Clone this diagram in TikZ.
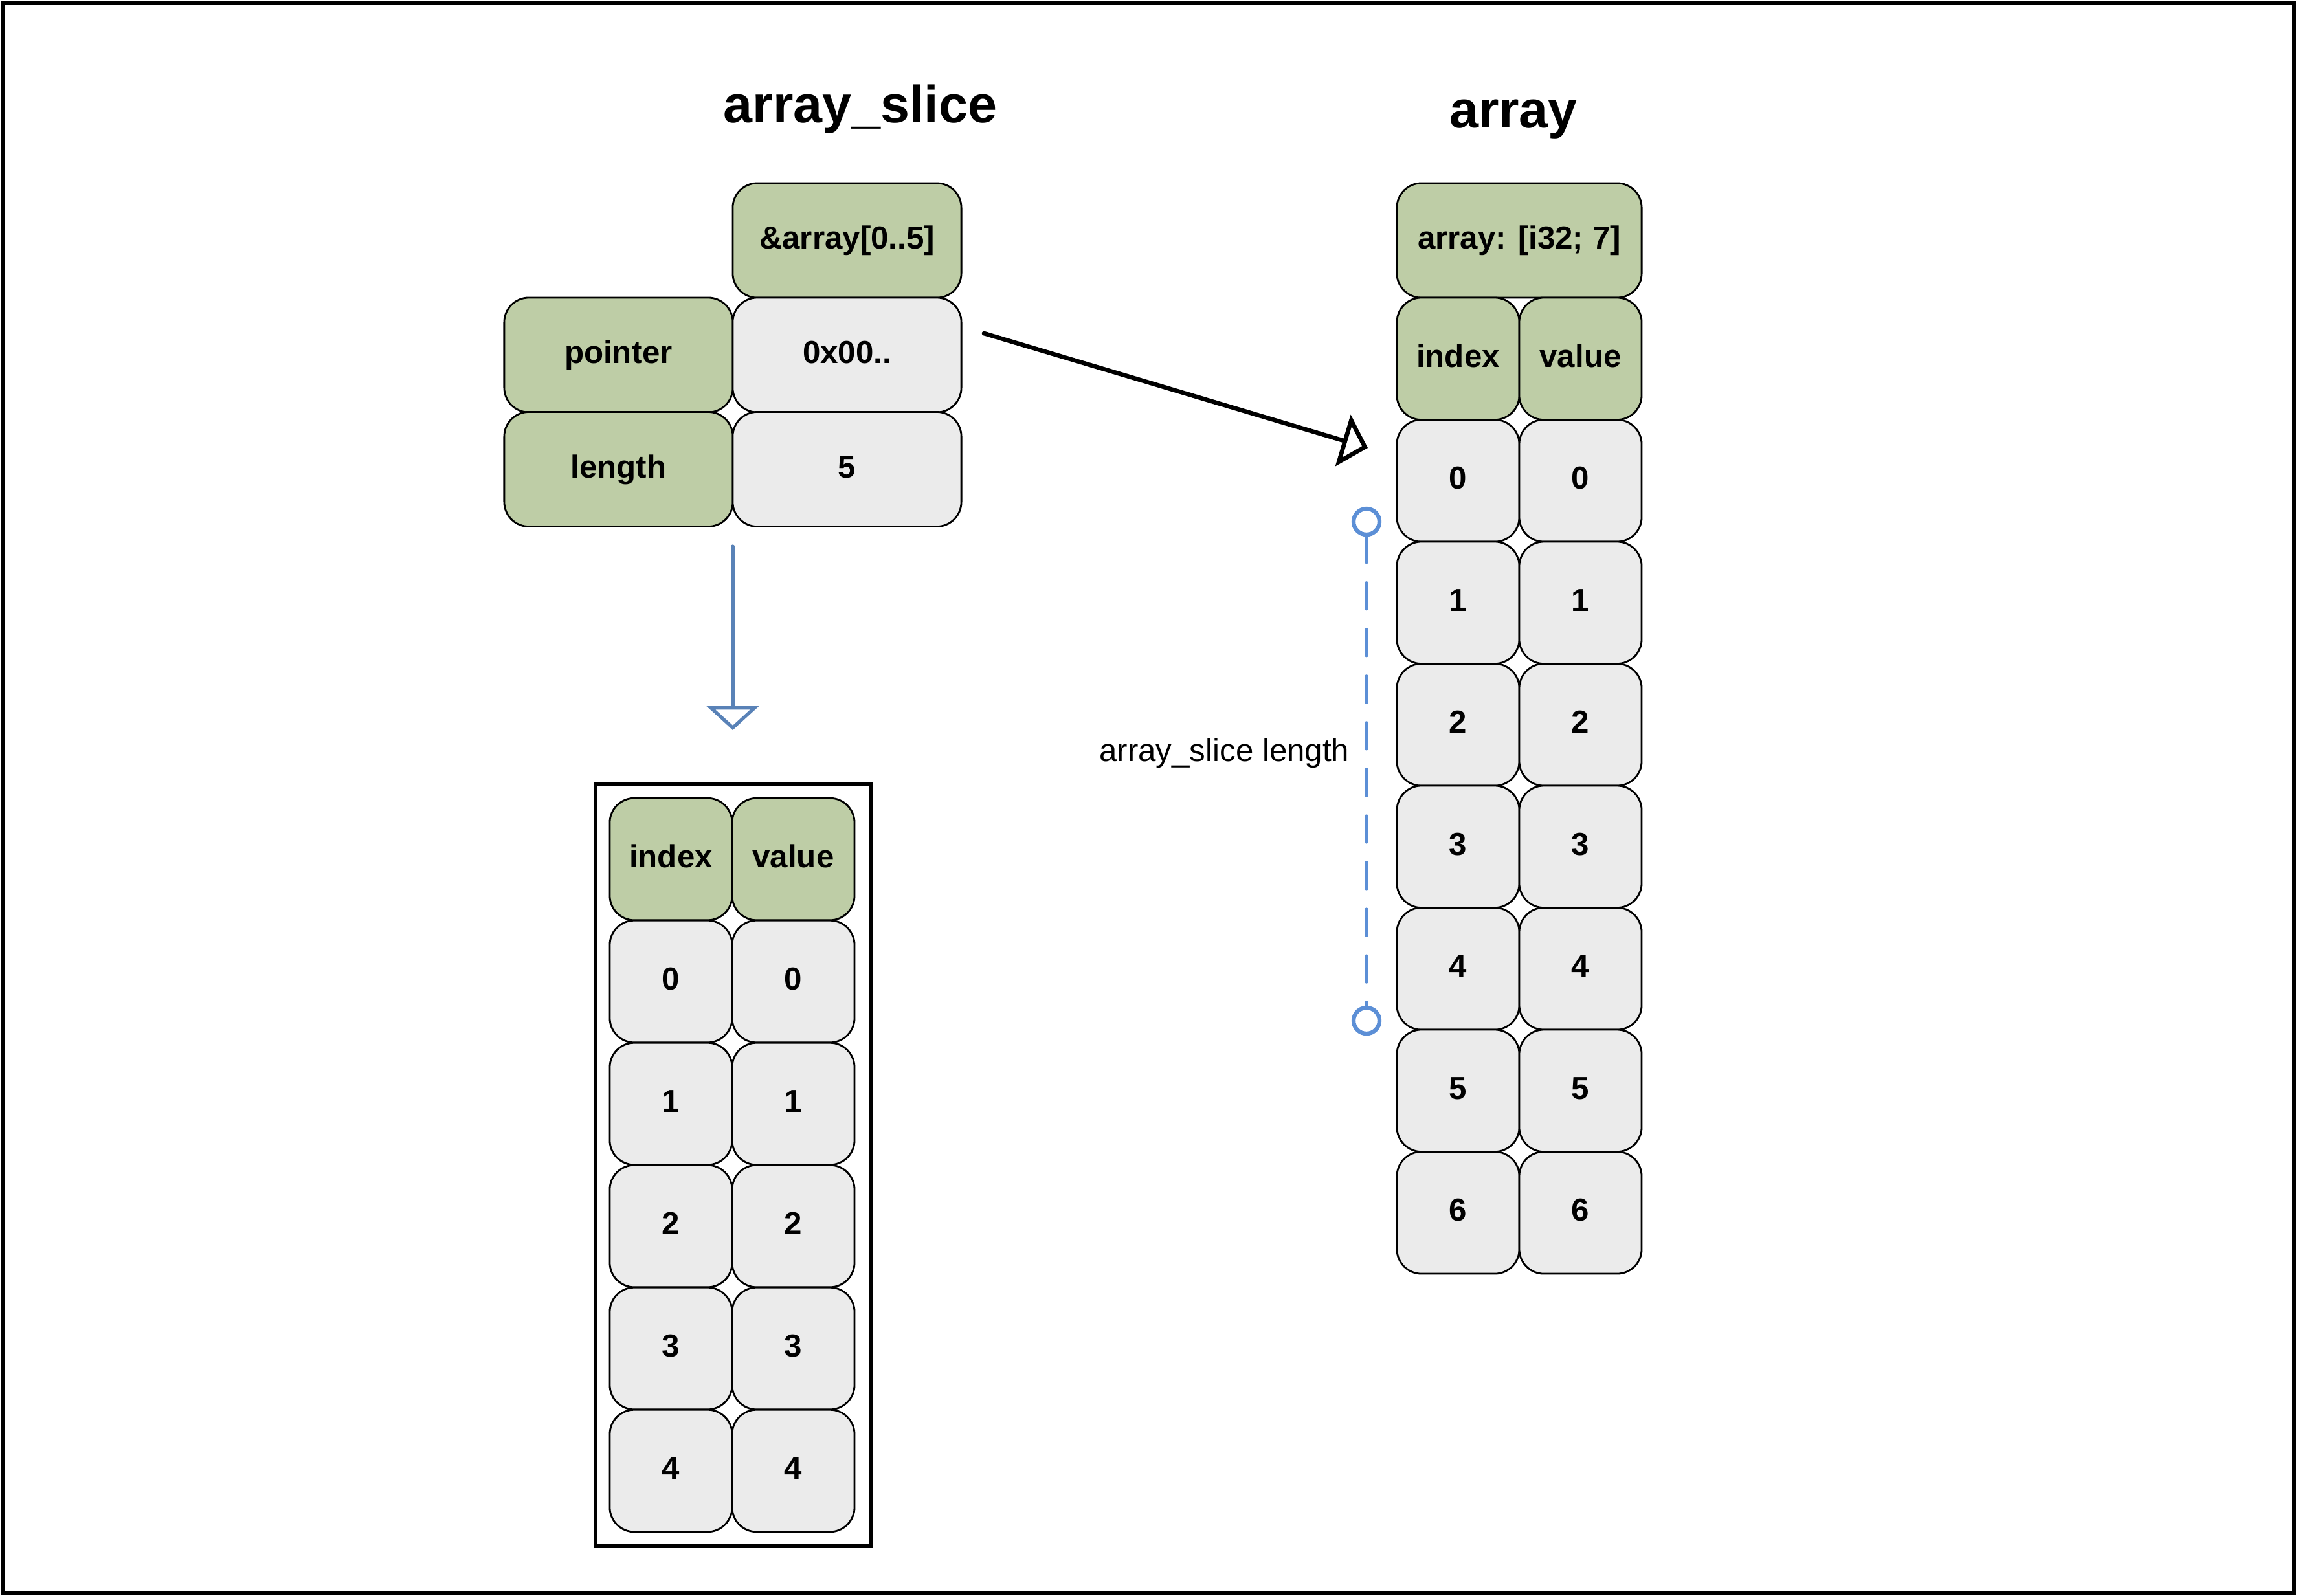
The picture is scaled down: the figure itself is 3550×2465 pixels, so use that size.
\documentclass[tikz,border=0pt]{standalone}
\usepackage{fontspec}
\setmainfont{Liberation Sans}
\usetikzlibrary{arrows.meta}
\definecolor{cgreen}{RGB}{190,205,166}
\definecolor{cgray}{RGB}{235,235,235}
\definecolor{arrowblue}{RGB}{89,130,183}
\definecolor{dashblue}{RGB}{92,143,214}
\begin{document}
\begin{tikzpicture}[x=0.01cm, y=-0.01cm,
  cell/.style={draw=black, line width=0.8pt, rounded corners=0.38cm, inner sep=0pt,
    font=\bfseries\fontsize{14}{16}\selectfont, text height=0.95em, text depth=0.2em},
  gcell/.style={cell, fill=cgreen},
  wcell/.style={cell, fill=cgray},
  sq/.style={minimum width=1.89cm, minimum height=1.885cm},
  wide/.style={minimum width=3.53cm, minimum height=1.77cm},
  hdr/.style={minimum width=3.78cm, minimum height=1.77cm},
  title/.style={font=\bfseries\fontsize{23}{28}\selectfont, inner sep=0pt, anchor=base},
  endpt/.style={circle, draw=dashblue, fill=white, line width=1.8pt, minimum size=0.4cm, inner sep=0pt},
]
\useasboundingbox (0,0) rectangle (3550,2465);
\draw[line width=1.9pt] (5,5) rectangle (3544,2461);

% titles
\node[title] (t1) at (1329,189) {array\_slice};
\node[title] (t2) at (2338,197) {array};

% top slice table
\node[gcell, wide] (amp) at (1308.5,371.5) {\&array[0..5]};
\node[gcell, wide] (pointer) at (955.5,548.5) {pointer};
\node[wcell, wide] (ptrval) at (1308.5,548.5) {0x00..};
\node[gcell, wide] (length) at (955.5,725) {length};
\node[wcell, wide] (lenval) at (1308.5,725) {5};

% right array table
\node[gcell, hdr] (arr) at (2347,371.5) {array: [i32; 7]};
\node[gcell, sq] (ridx) at (2252.5,554.25) {index};
\node[gcell, sq] (rval) at (2441.5,554.25) {value};
\foreach \i in {0,...,6} {
  \node[wcell, sq] (ri\i) at (2252.5,742.75+188.5*\i) {\i};
  \node[wcell, sq] (rv\i) at (2441.5,742.75+188.5*\i) {\i};
}

% lower slice view
\draw[line width=1.7pt] (920.5,1211) rectangle (1344.5,2389);
\node[gcell, sq] (lidx) at (1036.5,1327.5) {index};
\node[gcell, sq] (lval) at (1225.5,1327.5) {value};
\foreach \i in {0,...,4} {
  \node[wcell, sq] (li\i) at (1036.5,1516.5+189*\i) {\i};
  \node[wcell, sq] (lv\i) at (1225.5,1516.5+189*\i) {\i};
}

% black pointer arrow
\coordinate (pa) at (1520,515);
\coordinate (pb) at (2113,692);
\draw[line width=1.9pt, line cap=round, -{Triangle[open, length=0.40cm, width=0.82cm, line width=1.9pt]}] (pa) -- (pb);

% blue down arrow
\coordinate (da) at (1132,844);
\coordinate (db) at (1132,1128);
\draw[arrowblue, line width=1.5pt, line cap=round, -{Triangle[open, length=0.37cm, width=0.80cm, line width=1.5pt]}] (da) -- (db);

% dashed length marker
\node[endpt] (c1) at (2111,806) {};
\node[endpt] (c2) at (2111,1577) {};
\draw[dashblue, line width=1.8pt, line cap=round, dash pattern=on 0.39cm off 0.33cm] (c1) -- (c2);
\node[font=\fontsize{14}{16}\selectfont, inner sep=0pt, anchor=base east] (lbl) at (2085,1176) {array\_slice length};
\end{tikzpicture}
\end{document}
